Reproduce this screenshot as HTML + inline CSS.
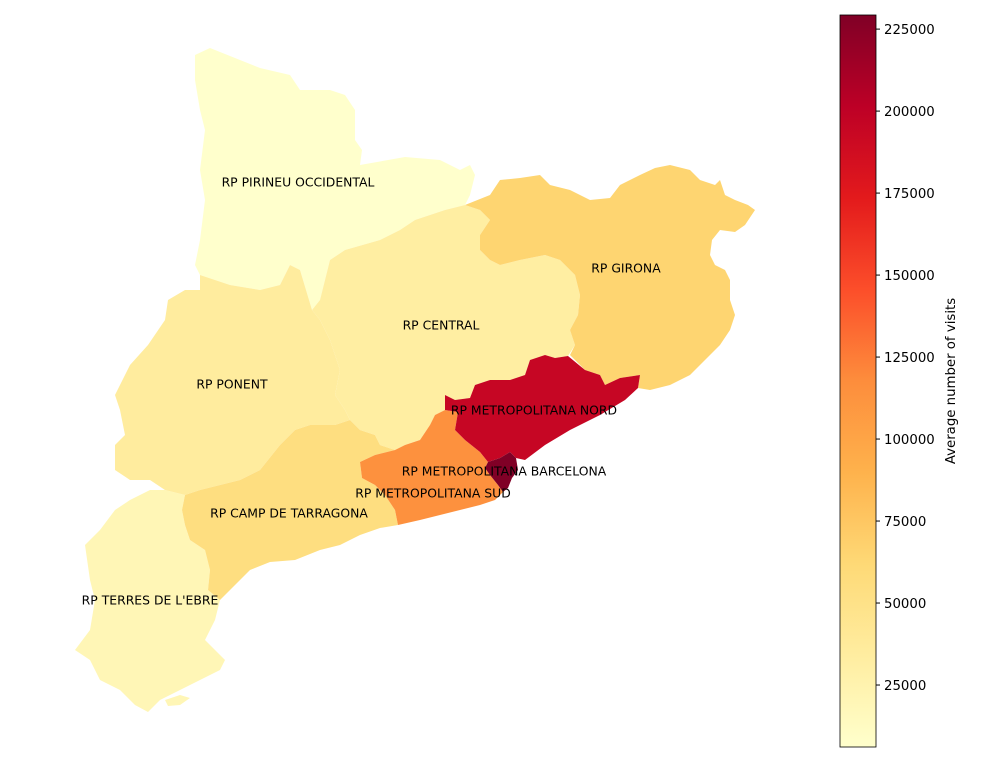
<!DOCTYPE html>
<html><head><meta charset="utf-8"><style>
body{margin:0;background:#fff;}
svg{display:block;font-family:"DejaVu Sans","Liberation Sans",sans-serif;}
</style></head><body>
<svg id="chart" width="1000" height="762" viewBox="0 0 1000 762">
<g id="map"></g>
<g id="labels"></g>
<g id="cbar"></g>
</svg>
<script>
const regions = ["RP PIRINEU OCCIDENTAL","RP TERRES DE L'EBRE","RP PONENT","RP CENTRAL","RP CAMP DE TARRAGONA","RP GIRONA","RP METROPOLITANA SUD","RP METROPOLITANA NORD","RP METROPOLITANA BARCELONA"];
const visits = [6100, 20000, 35000, 33000, 55000, 65000, 115000, 195000, 229300];
const tickValues = [25000, 50000, 75000, 100000, 125000, 150000, 175000, 200000, 225000];

const shapes = {
"RP PIRINEU OCCIDENTAL":"M195,55 L210,48 L240,60 L260,68 L290,75 L300,90 L330,90 L345,95 L355,110 L355,140 L362,150 L360,165 L405,157 L440,160 L460,170 L470,165 L475,175 L470,195 L465,205 L445,210 L415,220 L400,230 L380,240 L345,250 L330,260 L325,280 L320,300 L312,310 L300,270 L290,265 L280,285 L260,290 L230,285 L200,275 L195,265 L200,240 L205,200 L200,170 L205,130 L200,110 L195,80 Z",
"RP GIRONA":"M465,205 L490,195 L500,180 L520,178 L540,175 L550,185 L570,190 L590,200 L610,198 L620,185 L640,175 L655,168 L670,165 L690,170 L700,180 L715,185 L720,180 L725,195 L735,200 L748,205 L755,210 L745,225 L735,232 L720,230 L712,240 L710,255 L715,265 L725,270 L730,280 L730,300 L735,315 L730,330 L720,345 L705,360 L690,375 L670,385 L650,390 L638,388 L640,375 L620,378 L605,385 L600,375 L585,370 L570,355 L575,345 L570,330 L578,315 L580,295 L575,275 L560,260 L545,255 L520,260 L500,265 L490,260 L480,250 L480,235 L490,220 L480,210 Z",
"RP CENTRAL":"M325,280 L330,260 L345,250 L380,240 L400,230 L415,220 L445,210 L465,205 L480,210 L490,220 L480,235 L480,250 L490,260 L500,265 L520,260 L545,255 L560,260 L575,275 L580,295 L578,315 L570,330 L575,345 L568,356 L555,358 L545,355 L530,360 L525,375 L510,380 L490,380 L475,385 L470,398 L455,400 L445,395 L445,410 L435,415 L430,425 L420,440 L405,445 L395,450 L380,445 L375,435 L360,430 L350,420 L345,410 L335,395 L340,370 L330,340 L320,320 L312,310 L320,300 Z",
"RP PONENT":"M200,275 L230,285 L260,290 L280,285 L290,265 L300,270 L312,310 L320,320 L330,340 L340,370 L335,395 L345,410 L350,420 L335,425 L310,425 L295,430 L280,445 L260,470 L240,480 L220,485 L200,490 L185,495 L165,490 L150,480 L130,480 L115,470 L115,445 L125,435 L120,410 L115,395 L130,365 L148,345 L165,320 L168,300 L185,290 L200,290 Z",
"RP CAMP DE TARRAGONA":"M185,495 L200,490 L220,485 L240,480 L260,470 L280,445 L295,430 L310,425 L335,425 L350,420 L360,430 L375,435 L380,445 L395,450 L375,455 L360,462 L362,478 L375,485 L385,495 L395,510 L398,525 L380,528 L360,535 L340,545 L320,550 L295,560 L270,562 L250,570 L235,585 L220,600 L208,590 L210,570 L205,550 L190,540 L185,525 L182,510 Z",
"RP TERRES DE L'EBRE":"M165,490 L185,495 L182,510 L185,525 L190,540 L205,550 L210,570 L208,590 L220,600 L215,620 L205,640 L215,650 L225,660 L220,670 L200,680 L180,690 L160,700 L148,712 L135,705 L120,690 L100,680 L90,660 L75,650 L90,630 L95,600 L90,580 L85,545 L100,530 L115,510 L130,500 L150,490 Z M165,700 L180,695 L190,698 L180,705 L168,706 Z",
"RP METROPOLITANA NORD":"M445,395 L455,400 L470,398 L475,385 L490,380 L510,380 L525,375 L530,360 L545,355 L555,358 L568,356 L585,370 L600,375 L605,385 L620,378 L640,375 L638,388 L625,400 L600,415 L570,430 L545,445 L525,460 L516,458 L510,452 L500,458 L488,462 L480,452 L465,440 L455,430 L458,412 L445,410 Z",
"RP METROPOLITANA SUD":"M360,462 L375,455 L395,450 L405,445 L420,440 L430,425 L435,415 L445,410 L458,412 L455,430 L465,440 L480,452 L488,462 L485,468 L490,475 L498,485 L503,492 L495,500 L480,505 L460,510 L440,515 L420,520 L398,525 L395,510 L385,495 L375,485 L362,478 Z",
"RP METROPOLITANA BARCELONA":"M488,462 L500,458 L510,452 L516,458 L518,470 L512,478 L508,488 L503,492 L498,485 L490,475 L485,468 Z"
};
const labelPos = {
"RP PIRINEU OCCIDENTAL":[298,182],"RP TERRES DE L'EBRE":[150,600],"RP PONENT":[232,384],"RP CENTRAL":[441,325],
"RP CAMP DE TARRAGONA":[289,513],"RP GIRONA":[626,268],"RP METROPOLITANA SUD":[433,493],"RP METROPOLITANA NORD":[534,410],"RP METROPOLITANA BARCELONA":[504,471]
};

const vmin = 6100, vmax = 229300;
const stops = ["#ffffcc","#ffeda0","#fed976","#feb24c","#fd8d3c","#fc4e2a","#e31a1c","#bd0026","#800026"];
function hex(c){return [1,3,5].map(i=>parseInt(c.substr(i,2),16));}
function cmap(v){
  let t=Math.max(0,Math.min(1,(v-vmin)/(vmax-vmin)))*(stops.length-1);
  let i=Math.min(Math.floor(t),stops.length-2), f=t-i;
  const a=hex(stops[i]), b=hex(stops[i+1]);
  return "rgb("+a.map((x,k)=>Math.round(x+(b[k]-x)*f)).join(",")+")";
}
const NS="http://www.w3.org/2000/svg";
const map=document.getElementById("map"), lab=document.getElementById("labels"), cb=document.getElementById("cbar");
regions.forEach((r,i)=>{
  const p=document.createElementNS(NS,"path");
  p.setAttribute("d",shapes[r]);
  p.setAttribute("fill",cmap(visits[i]));
  
  
  map.appendChild(p);
});
regions.forEach((r,i)=>{
  const t=document.createElementNS(NS,"text");
  t.setAttribute("x",labelPos[r][0]);t.setAttribute("y",labelPos[r][1]+4.5);
  t.setAttribute("text-anchor","middle");t.setAttribute("font-size","12.4");
  t.textContent=r;
  
  
  lab.appendChild(t);
});
const cx=840, cw=36, cy0=15, cy1=747;
function yScale(v){return cy1-(v-vmin)/(vmax-vmin)*(cy1-cy0);}
const defs=document.createElementNS(NS,"defs");
const g=document.createElementNS(NS,"linearGradient");
g.setAttribute("id","grad");g.setAttribute("x1","0");g.setAttribute("y1","1");g.setAttribute("x2","0");g.setAttribute("y2","0");
stops.forEach((s,i)=>{const st=document.createElementNS(NS,"stop");st.setAttribute("offset",i/(stops.length-1));st.setAttribute("stop-color",s);g.appendChild(st);});
defs.appendChild(g);cb.appendChild(defs);
const rect=document.createElementNS(NS,"rect");
rect.setAttribute("x",cx);rect.setAttribute("y",cy0);rect.setAttribute("width",cw);rect.setAttribute("height",cy1-cy0);
rect.setAttribute("fill","url(#grad)");rect.setAttribute("stroke","#000");rect.setAttribute("stroke-width","0.8");


cb.appendChild(rect);
tickValues.forEach(v=>{
  const y=yScale(v);
  const l=document.createElementNS(NS,"line");
  l.setAttribute("x1",cx+cw);l.setAttribute("x2",cx+cw+4);l.setAttribute("y1",y);l.setAttribute("y2",y);l.setAttribute("stroke","#000");
  
  
  cb.appendChild(l);
  const t=document.createElementNS(NS,"text");
  t.setAttribute("x",cx+cw+8);t.setAttribute("y",y+5);t.setAttribute("font-size","13.3");
  t.textContent=v;
  
  
  cb.appendChild(t);
});
const tt=document.createElementNS(NS,"text");
tt.setAttribute("transform","translate(955,381) rotate(-90)");tt.setAttribute("text-anchor","middle");tt.setAttribute("font-size","13.3");
tt.textContent="Average number of visits";


cb.appendChild(tt);
</script>
</body></html>
